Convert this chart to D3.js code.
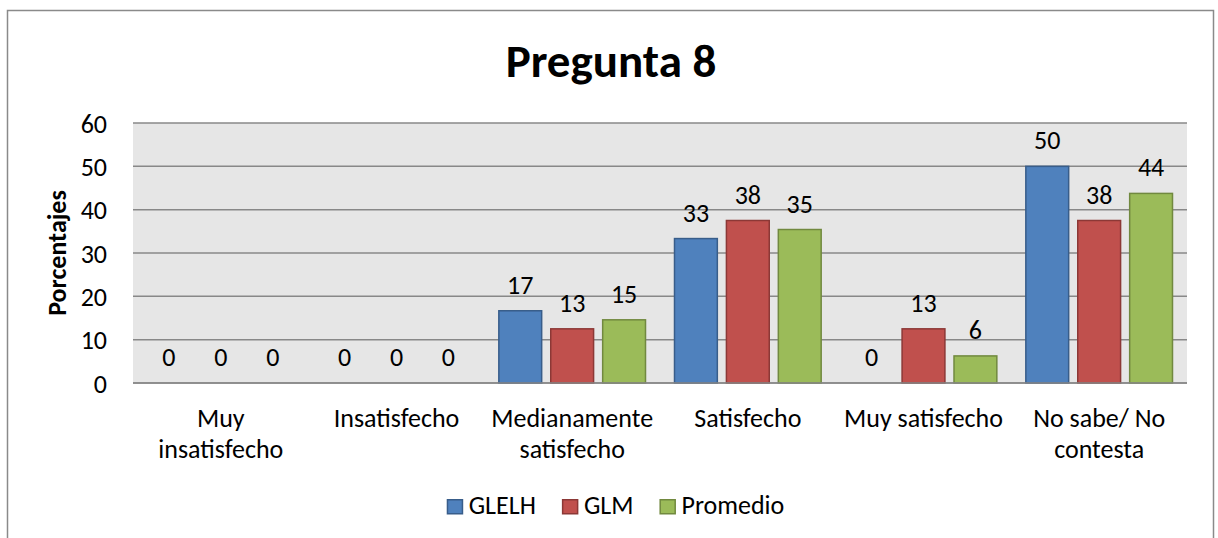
<!DOCTYPE html>
<html>
<head>
<meta charset="utf-8">
<script src="https://cdn.jsdelivr.net/npm/d3@7"></script>
<style>
  html, body { margin: 0; padding: 0; background: #fff; }
  svg { display: block; }
  text { font-family: Carlito, Lato, "Open Sans", sans-serif; fill: #000; }
</style>
</head>
<body>
<svg id="chart" width="1218" height="538"></svg>
<script>
const title = "Pregunta 8";
const yAxisTitle = "Porcentajes";
const categories = ["Muy\ninsatisfecho", "Insatisfecho", "Medianamente\nsatisfecho", "Satisfecho", "Muy satisfecho", "No sabe/ No\ncontesta"];
const seriesNames = ["GLELH", "GLM", "Promedio"];
const glelh = [0, 0, 16.67, 33.33, 0, 50];
const glm = [0, 0, 12.5, 37.5, 12.5, 37.5];
const promedio = [0, 0, 14.58, 35.42, 6.25, 43.75];
const yTicks = [0, 10, 20, 30, 40, 50, 60];
const fills = ["#4F81BD", "#C0504D", "#9BBB59"];
const strokes = ["#385D8A", "#8C3836", "#71893F"];

const seriesValues = [glelh, glm, promedio];
const FS = 26;

const svg = d3.select("#chart");
const plot = { left: 133, right: 1187, top: 123, bottom: 383 };

// outer border
svg.append("rect")
  .attr("x", 7.5).attr("y", 10.5)
  .attr("width", 1206).attr("height", 540)
  .attr("fill", "#fff").attr("stroke", "#8a8a8a").attr("stroke-width", 1.5);

const x0 = d3.scaleBand().domain(categories).range([plot.left, plot.right]).paddingInner(0).paddingOuter(0);
const x1 = d3.scaleBand().domain(seriesNames).range([14.5, x0.bandwidth() - 14.5]).paddingInner(0.175).paddingOuter(0);
const y = d3.scaleLinear().domain([0, 60]).range([plot.bottom, plot.top]);

// plot background
svg.append("rect")
  .attr("x", plot.left).attr("y", plot.top)
  .attr("width", plot.right - plot.left).attr("height", plot.bottom - plot.top)
  .attr("fill", "#E6E6E6");

// gridlines
svg.append("g").selectAll("line").data(yTicks).join("line")
  .attr("x1", plot.left).attr("x2", plot.right)
  .attr("y1", d => y(d)).attr("y2", d => y(d))
  .attr("stroke", "#888").attr("stroke-width", 1.5);

// y axis labels
const yAxis = d3.axisLeft(y).tickValues(yTicks).tickSize(0).tickPadding(0);
const yg = svg.append("g").attr("transform", `translate(${plot.left - 26},0)`).call(yAxis);
yg.select(".domain").remove();
yg.selectAll("text").attr("font-size", FS).attr("font-family", "Carlito, Lato, sans-serif").attr("fill", "#000").attr("dy", "0.35em");

// y axis title
svg.append("text")
  .attr("transform", `translate(66,${(plot.top + plot.bottom) / 2}) rotate(-90)`)
  .attr("text-anchor", "middle")
  .attr("font-size", FS).attr("font-weight", "bold")
  .text(yAxisTitle);

// bars
const groups = svg.append("g").selectAll("g").data(categories).join("g")
  .attr("transform", d => `translate(${x0(d)},0)`);

groups.each(function(cat, ci) {
  const g = d3.select(this);
  seriesNames.forEach((s, si) => {
    const v = seriesValues[si][ci];
    if (v > 0) {
      g.append("rect")
        .attr("x", x1(s)).attr("y", y(v))
        .attr("width", x1.bandwidth()).attr("height", y(0) - y(v))
        .attr("fill", fills[si]).attr("stroke", strokes[si]).attr("stroke-width", 1.5);
    }
    g.append("text")
      .attr("x", x1(s) + x1.bandwidth() / 2)
      .attr("y", y(v) - 17)
      .attr("text-anchor", "middle")
      .attr("font-size", FS)
      .text(Math.round(v));
  });
});

// x axis line
svg.append("line")
  .attr("x1", plot.left).attr("x2", plot.right)
  .attr("y1", plot.bottom).attr("y2", plot.bottom)
  .attr("stroke", "#888").attr("stroke-width", 1.5);

// category labels
const xAxis = d3.axisBottom(x0).tickSize(0).tickFormat("");
svg.append("g").attr("transform", `translate(0,${plot.bottom})`).call(xAxis).select(".domain").remove();
categories.forEach(c => {
  const lines = c.split("\n");
  const t = svg.append("text")
    .attr("text-anchor", "middle")
    .attr("font-size", FS);
  lines.forEach((ln, i) => {
    t.append("tspan")
      .attr("x", x0(c) + x0.bandwidth() / 2)
      .attr("y", 427 + i * 31)
      .text(ln);
  });
});

// title
svg.append("text")
  .attr("x", 611).attr("y", 77)
  .attr("text-anchor", "middle")
  .attr("font-size", 47).attr("font-weight", "bold")
  .text(title);

// legend
const legend = svg.append("g");
let lx = 0;
seriesNames.forEach((s, i) => {
  const item = legend.append("g").attr("transform", `translate(${lx},0)`);
  item.append("rect")
    .attr("x", 0.75).attr("y", 499.75).attr("width", 15).attr("height", 14)
    .attr("fill", fills[i]).attr("stroke", strokes[i]).attr("stroke-width", 1.5);
  const t = item.append("text").attr("x", 22).attr("y", 514).attr("font-size", FS).text(s);
  lx += 22 + t.node().getComputedTextLength() + 26;
});
const legendWidth = lx - 26;
legend.attr("transform", `translate(${615.5 - legendWidth / 2},0)`);
</script>
</body>
</html>
